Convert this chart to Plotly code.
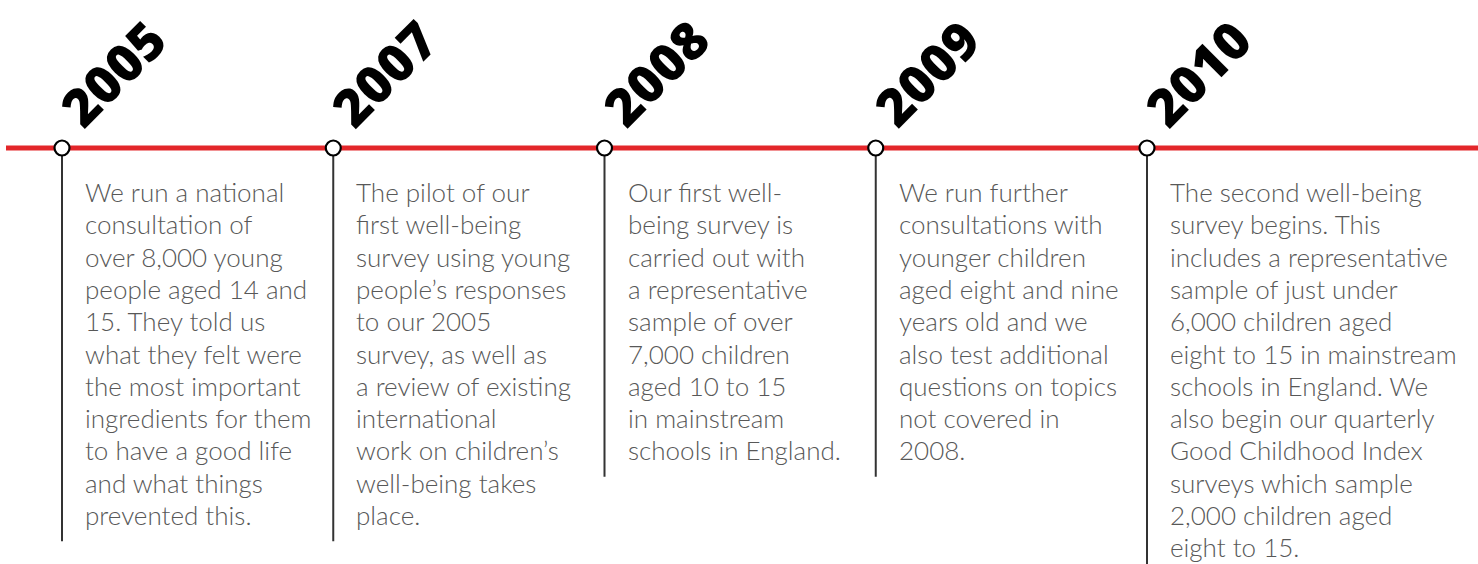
import plotly.graph_objects as go

# ---- data ----
years = ["2005", "2007", "2008", "2009", "2010"]
desc_2005 = ["We run a national", "consultation of", "over 8,000 young", "people aged 14 and",
             "15. They told us", "what they felt were", "the most important",
             "ingredients for them", "to have a good life", "and what things", "prevented this."]
desc_2007 = ["The pilot of our", "first well-being", "survey using young", "people\u2019s responses",
             "to our 2005", "survey, as well as", "a review of existing", "international",
             "work on children\u2019s", "well-being takes", "place."]
desc_2008 = ["Our first well-", "being survey is", "carried out with", "a representative",
             "sample of over", "7,000 children", "aged 10 to 15", "in mainstream",
             "schools in England."]
desc_2009 = ["We run further", "consultations with", "younger children", "aged eight and nine",
             "years old and we", "also test additional", "questions on topics", "not covered in",
             "2008."]
desc_2010 = ["The second well-being", "survey begins. This", "includes a representative",
             "sample of just under", "6,000 children aged", "eight to 15 in mainstream",
             "schools in England. We", "also begin our quarterly", "Good Childhood Index",
             "surveys which sample", "2,000 children aged", "eight to 15."]
descriptions = [desc_2005, desc_2007, desc_2008, desc_2009, desc_2010]

# ---- layout constants ----
W, H = 1478, 564
PX_PER_UNIT = 271.25
FIRST_NODE_PX = 62
LINE_Y = 148
TEXT_Y0 = 192
LINE_STEP = 32.3
RED = "#e3262a"

idx = list(range(len(years)))

fig = go.Figure()

shapes = [dict(type="line", xref="paper", yref="y", x0=6 / W, x1=1, y0=LINE_Y, y1=LINE_Y,
               line=dict(color=RED, width=5), layer="below")]
for i, d in zip(idx, descriptions):
    y_end = 186 + len(d) * LINE_STEP
    shapes.append(dict(type="line", xref="x", yref="y", x0=i, x1=i, y0=LINE_Y, y1=y_end,
                       line=dict(color="#333333", width=2), layer="below"))

fig.add_trace(go.Scatter(x=idx, y=[LINE_Y] * len(idx), mode="markers",
                         marker=dict(size=15, color="white", line=dict(color="black", width=2.2)),
                         hoverinfo="skip", showlegend=False))

annotations = []
for i, (yr, d) in enumerate(zip(years, descriptions)):
    annotations.append(dict(x=i, y=72, xref="x", yref="y", text=yr, showarrow=False,
                            textangle=-45, xanchor="center", yanchor="middle", xshift=50,
                            font=dict(family="Open Sans", size=52, color="black", weight=800)))
    for k, line in enumerate(d):
        annotations.append(dict(x=i, y=TEXT_Y0 + k * LINE_STEP, xref="x", yref="y", text=line,
                                showarrow=False, xanchor="left", yanchor="middle", xshift=21,
                                font=dict(family="Lato", size=26, color="#585858", weight=300)))

fig.update_layout(
    width=W, height=H, margin=dict(l=0, r=0, t=0, b=0),
    paper_bgcolor="white", plot_bgcolor="white",
    xaxis=dict(range=[-FIRST_NODE_PX / PX_PER_UNIT, (W - FIRST_NODE_PX) / PX_PER_UNIT],
               visible=False, fixedrange=True),
    yaxis=dict(range=[H, 0], visible=False, fixedrange=True),
    shapes=shapes, annotations=annotations, showlegend=False,
)

fig.write_html("out.html", config={"displayModeBar": False},
               post_script="document.body.style.margin='0';")
